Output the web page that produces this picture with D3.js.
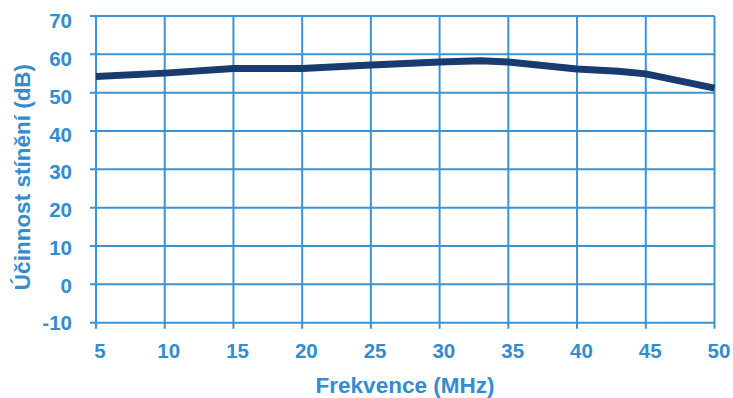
<!DOCTYPE html>
<html><head><meta charset="utf-8">
<script src="https://cdn.jsdelivr.net/npm/d3@7"></script>
<style>body{margin:0;background:#fff}svg{display:block}text{font-family:"Liberation Sans",Arial,sans-serif;font-weight:bold;fill:#338cd0}</style>
</head><body><svg id="c" width="733" height="398"></svg>
<script>
const freq = [5, 10, 15, 20, 25, 30, 33, 35, 40, 43, 45, 50];
const shielding = [54.2, 55.1, 56.3, 56.3, 57.2, 58.0, 58.3, 58.0, 56.2, 55.6, 54.9, 51.2];
const xTicks = [5, 10, 15, 20, 25, 30, 35, 40, 45, 50];
const yTicks = [-10, 0, 10, 20, 30, 40, 50, 60, 70];
const xTitle = "Frekvence (MHz)";
const yTitle = "Účinnost stínění (dB)";

const svg = d3.select("#c");
const grid = "#3d93d2";
const x = d3.scaleLinear().domain([5, 50]).range([96, 714.5]);
const y = d3.scaleLinear().domain([-10, 70]).range([322.7, 16]);
// label placement scales (labels sit slightly offset from the grid in the reference)
const xl = d3.scaleLinear().domain([5, 50]).range([100, 719]);
const yl = d3.scaleLinear().domain([-10, 70]).range([323, 21]);

const g = svg.append("g");
g.selectAll(".vx").data(xTicks).join("line")
  .attr("x1", d => x(d)).attr("x2", d => x(d))
  .attr("y1", y(70)).attr("y2", y(-10) + 6)
  .attr("stroke", grid).attr("stroke-width", 2);
g.selectAll(".hy").data(yTicks).join("line")
  .attr("y1", d => y(d)).attr("y2", d => y(d))
  .attr("x1", x(5) - 6).attr("x2", x(50))
  .attr("stroke", grid).attr("stroke-width", 2);

g.selectAll(".xl").data(xTicks).join("text")
  .attr("x", d => xl(d)).attr("y", 358)
  .attr("text-anchor", "middle").attr("font-size", 20.5).text(d => d);
g.selectAll(".yl").data(yTicks).join("text")
  .attr("x", 72).attr("y", d => yl(d) + 7.3)
  .attr("text-anchor", "end").attr("font-size", 20.5).text(d => d);

svg.append("text").attr("x", 405).attr("y", 392.5).attr("text-anchor", "middle")
  .attr("font-size", 22.5).text(xTitle);
svg.append("text").attr("transform", "translate(30,177) rotate(-90)")
  .attr("text-anchor", "middle").attr("font-size", 22.5).text(yTitle);

const line = d3.line().x((d, i) => x(freq[i])).y(d => y(d));
svg.append("path").datum(shielding).attr("d", line)
  .attr("fill", "none").attr("stroke", "#1a3b70").attr("stroke-width", 7)
  .attr("stroke-linejoin", "round");
</script></body></html>
